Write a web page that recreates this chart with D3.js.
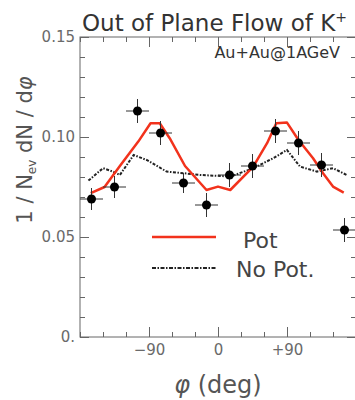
<!DOCTYPE html>
<html>
<head>
<meta charset="utf-8">
<script src="https://cdn.jsdelivr.net/npm/d3@7"></script>
<style>
  body { margin: 0; background: #fff; }
  text { font-family: "DejaVu Sans", sans-serif; }
</style>
</head>
<body>
<div id="main"></div>
<script>
// data points (12 bins of 30 deg)
let phiBins = [-165, -135, -105, -75, -45, -15, 15, 45, 75, 105, 135, 165]
let dataVals = [0.069, 0.075, 0.113, 0.102, 0.077, 0.066, 0.081, 0.0855, 0.103, 0.097, 0.086, 0.0535]
let dataErr = [0.0055, 0.0055, 0.006, 0.006, 0.005, 0.006, 0.006, 0.006, 0.006, 0.006, 0.006, 0.006]
let binHalf = 15

// "Pot" curve
let potPhi = [-166, -148, -128, -104, -88, -76, -63, -43, -15, 0, 16, 46, 64, 76, 90, 105, 124, 137, 150, 164]
let potVals = [0.0719, 0.075, 0.0855, 0.0977, 0.1069, 0.1069, 0.0994, 0.0855, 0.0735, 0.0752, 0.0735, 0.0852, 0.0969, 0.1069, 0.1072, 0.0985, 0.0894, 0.0819, 0.0752, 0.0722]

// "No Pot." curve
let noPotPhi = [-169, -150, -137, -128, -110, -93, -67, -45, -23, 3, 16, 46, 72, 90, 107, 129, 150, 168]
let noPotVals = [0.0782, 0.0844, 0.0827, 0.081, 0.091, 0.0885, 0.0827, 0.0819, 0.081, 0.0805, 0.0802, 0.0844, 0.0894, 0.0935, 0.0852, 0.0827, 0.0844, 0.081]

let xMajor = [-90, 0, 90]
let xMajorLabels = ["\u221290", "0", "+90"]
let yMajor = [0, 0.05, 0.10, 0.15]
let yMajorLabels = ["0.", "0.05", "0.10", "0.15"]

let width = 355
let height = 400
let mLeft = 80, mTop = 37, plotH = 300
let axisColor = "#666"
let red = "#f2321c"

let svg = d3.select('#main').append('svg')
    .attr('width', width)
    .attr('height', height)

let xScale = d3.scaleLinear().domain([-180, 180]).range([mLeft, mLeft + 276])
let yScale = d3.scaleLinear().domain([0, 0.15]).range([mTop + plotH, mTop])

let xMinor = d3.range(-180, 181, 30)
let yMinor = d3.range(0, 16).map((d) => d / 100)

// frame
svg.append('rect')
    .attr('x', xScale(-180)).attr('y', yScale(0.15))
    .attr('width', xScale(180) - xScale(-180))
    .attr('height', yScale(0) - yScale(0.15))
    .attr('fill', 'none').attr('stroke', axisColor).attr('stroke-width', 1)

function styleAxis (g) {
    g.select('.domain').remove()
    g.selectAll('line').attr('stroke', axisColor)
    g.selectAll('text').attr('fill', '#6a6a6a').style('font-size', '15px')
}

// x ticks, bottom and top, pointing in
svg.append('g').attr('transform', `translate(0,${yScale(0)})`)
    .call(d3.axisBottom(xScale).tickValues(xMinor).tickSize(-5).tickFormat(''))
    .call(styleAxis)
svg.append('g').attr('transform', `translate(0,${yScale(0)})`)
    .call(d3.axisBottom(xScale).tickValues(xMajor).tickSize(-10).tickPadding(7)
        .tickFormat((d, i) => xMajorLabels[i]))
    .call(styleAxis)
svg.append('g').attr('transform', `translate(0,${yScale(0.15)})`)
    .call(d3.axisTop(xScale).tickValues(xMinor).tickSize(-5).tickFormat(''))
    .call(styleAxis)
svg.append('g').attr('transform', `translate(0,${yScale(0.15)})`)
    .call(d3.axisTop(xScale).tickValues(xMajor).tickSize(-10).tickFormat(''))
    .call(styleAxis)

// y ticks, left and right
svg.append('g').attr('transform', `translate(${xScale(-180)},0)`)
    .call(d3.axisLeft(yScale).tickValues(yMinor).tickSize(-5).tickFormat(''))
    .call(styleAxis)
svg.append('g').attr('transform', `translate(${xScale(-180)},0)`)
    .call(d3.axisLeft(yScale).tickValues(yMajor).tickSize(-9).tickPadding(5)
        .tickFormat((d, i) => yMajorLabels[i]))
    .call(styleAxis)
svg.append('g').attr('transform', `translate(${xScale(180)},0)`)
    .call(d3.axisRight(yScale).tickValues(yMinor).tickSize(-5).tickFormat(''))
    .call(styleAxis)
svg.append('g').attr('transform', `translate(${xScale(180)},0)`)
    .call(d3.axisRight(yScale).tickValues(yMajor).tickSize(-9).tickFormat(''))
    .call(styleAxis)

// curves
let line = d3.line().x((d) => xScale(d[0])).y((d) => yScale(d[1]))

svg.append('path')
    .datum(noPotPhi.map((p, i) => [p, noPotVals[i]]))
    .attr('d', line)
    .attr('fill', 'none').attr('stroke', '#222').attr('stroke-width', 2)
    .attr('stroke-dasharray', '3,1.5,1.5,1.5')

svg.append('path')
    .datum(potPhi.map((p, i) => [p, potVals[i]]))
    .attr('d', line)
    .attr('fill', 'none').attr('stroke', red).attr('stroke-width', 2.5)
    .attr('stroke-linejoin', 'round')

// data points with error bars
let pts = svg.append('g').selectAll('g')
    .data(phiBins.map((p, i) => ({ phi: p, v: dataVals[i], e: dataErr[i] })))
    .enter().append('g')

pts.append('line')
    .attr('x1', (d) => xScale(d.phi - binHalf)).attr('x2', (d) => xScale(d.phi + binHalf))
    .attr('y1', (d) => yScale(d.v)).attr('y2', (d) => yScale(d.v))
    .attr('stroke', '#333').attr('stroke-width', 1)
pts.append('line')
    .attr('x1', (d) => xScale(d.phi)).attr('x2', (d) => xScale(d.phi))
    .attr('y1', (d) => yScale(d.v - d.e)).attr('y2', (d) => yScale(d.v + d.e))
    .attr('stroke', '#333').attr('stroke-width', 1)
pts.append('circle')
    .attr('cx', (d) => xScale(d.phi)).attr('cy', (d) => yScale(d.v))
    .attr('r', 4.5).attr('fill', '#000')

// legend
svg.append('line').attr('x1', 152).attr('x2', 216).attr('y1', 237).attr('y2', 237)
    .attr('stroke', red).attr('stroke-width', 2.5)
svg.append('text').attr('x', 243).attr('y', 248).text('Pot')
    .attr('fill', '#444').style('font-size', '22px')
svg.append('line').attr('x1', 152).attr('x2', 216).attr('y1', 268).attr('y2', 268)
    .attr('stroke', '#222').attr('stroke-width', 2).attr('stroke-dasharray', '4,1.5,1.5,1.5')
svg.append('text').attr('x', 236).attr('y', 277).text('No Pot.')
    .attr('fill', '#444').style('font-size', '22px')

// labels
svg.append('text').attr('x', 82).attr('y', 31)
    .attr('fill', '#333').style('font-size', '23px')
    .text('Out of Plane Flow of K')
    .append('tspan').attr('dy', -9).style('font-size', '14px').text('+')

svg.append('text').attr('x', 340).attr('y', 58).attr('text-anchor', 'end')
    .attr('fill', '#333').style('font-size', '16px').text('Au+Au@1AGeV')

let yl = svg.append('text')
    .attr('transform', 'translate(32,150) rotate(-90)')
    .attr('text-anchor', 'middle')
    .attr('fill', '#555').style('font-size', '21px')
yl.append('tspan').text('1 / N')
yl.append('tspan').attr('dy', 4).style('font-size', '12px').text('ev')
yl.append('tspan').attr('dy', -4).text(' dN / d')
yl.append('tspan').style('font-style', 'italic').text('\u03c6')

let xl = svg.append('text').attr('x', 218).attr('y', 393)
    .attr('text-anchor', 'middle').attr('fill', '#555').style('font-size', '24px')
xl.append('tspan').style('font-style', 'italic').text('\u03c6')
xl.append('tspan').text(' (deg)')
</script>
</body>
</html>
